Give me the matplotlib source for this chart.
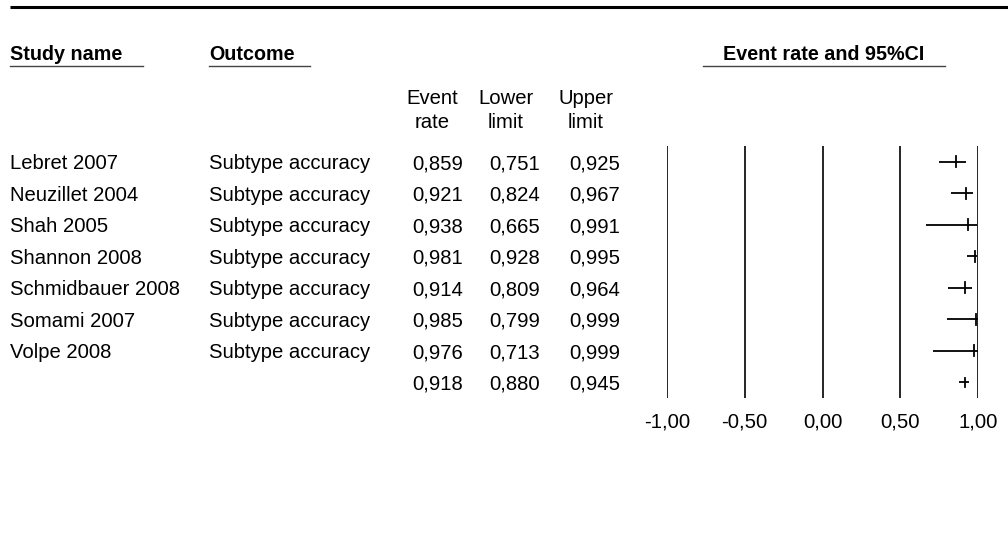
import matplotlib
matplotlib.use("Agg")
import matplotlib.pyplot as plt

plt.rcParams['font.family'] = ['Liberation Sans', 'DejaVu Sans']

studies = ["Lebret 2007", "Neuzillet 2004", "Shah 2005", "Shannon 2008",
           "Schmidbauer 2008", "Somami 2007", "Volpe 2008"]
outcome = ["Subtype accuracy"] * 7
event_rate = [0.859, 0.921, 0.938, 0.981, 0.914, 0.985, 0.976]
lower = [0.751, 0.824, 0.665, 0.928, 0.809, 0.799, 0.713]
upper = [0.925, 0.967, 0.991, 0.995, 0.964, 0.999, 0.999]
summary = (0.918, 0.880, 0.945)
xticks = [-1.0, -0.5, 0.0, 0.5, 1.0]

W, H = 1008, 544
fig = plt.figure(figsize=(W / 100, H / 100), dpi=100)

bg = fig.add_axes([0, 0, 1, 1])
bg.set_xlim(0, W)
bg.set_ylim(H, 0)
bg.axis('off')

fs = 14.6
dy = 2.0
def fmt(v):
    return f"{v:.3f}".replace('.', ',')

bg.plot([10, W], [7, 7], color='black', lw=2.2, solid_capstyle='butt')

hy = 54
bg.text(10, hy, "Study name", fontsize=fs - 0.4, fontweight='bold', va='center', ha='left')
bg.plot([10, 143], [66, 66], color='#444444', lw=1.0)
bg.text(209, hy, "Outcome", fontsize=fs - 0.4, fontweight='bold', va='center', ha='left')
bg.plot([209, 310], [66, 66], color='#444444', lw=1.0)
bg.text(824, hy, "Event rate and 95%CI", fontsize=fs - 0.4, fontweight='bold', va='center', ha='center')
bg.plot([703, 945], [66, 66], color='#444444', lw=1.0)

col_x = [463, 540, 620]
col_hdr_x = [432, 506, 586]
for cx, (l1, l2) in zip(col_hdr_x, [("Event", "rate"), ("Lower", "limit"), ("Upper", "limit")]):
    bg.text(cx, 96 + dy, l1, fontsize=fs, va='center', ha='center')
    bg.text(cx, 120 + dy, l2, fontsize=fs, va='center', ha='center')

x0, x1 = 667, 978
y_top, y_bot = 146, 398
ax = fig.add_axes([x0 / W, 1 - y_bot / H, (x1 - x0) / W, (y_bot - y_top) / H])
ax.set_xlim(-1, 1)
n = len(studies) + 1
ax.set_ylim(n - 0.5, -0.5)
ax.axis('off')
for t in xticks:
    ax.axvline(t, color='black', lw=1.2)

row_px = [y_top + (i + 0.5) * (y_bot - y_top) / n for i in range(n)]

for i in range(len(studies)):
    y = row_px[i] + dy
    bg.text(10, y, studies[i], fontsize=fs, va='center', ha='left')
    bg.text(209, y, outcome[i], fontsize=fs, va='center', ha='left')
    for cx, v in zip(col_x, (event_rate[i], lower[i], upper[i])):
        bg.text(cx, y, fmt(v), fontsize=fs, va='center', ha='right')
    ax.plot([lower[i], upper[i]], [i, i], color='black', lw=1.3, solid_capstyle='butt')
    ax.plot([event_rate[i], event_rate[i]], [i - 0.18, i + 0.18], color='black', lw=1.3)

i = len(studies)
y = row_px[i] + dy
for cx, v in zip(col_x, summary):
    bg.text(cx, y, fmt(v), fontsize=fs, va='center', ha='right')
ax.plot([summary[1], summary[2]], [i, i], color='black', lw=1.3, solid_capstyle='butt')
ax.plot([summary[0], summary[0]], [i - 0.14, i + 0.14], color='black', lw=1.3)

for t in xticks:
    px = x0 + (t + 1) / 2 * (x1 - x0)
    bg.text(px, 422, f"{t:.2f}".replace('.', ','), fontsize=fs, va='center', ha='center')

fig.savefig("out.png", dpi=100)
